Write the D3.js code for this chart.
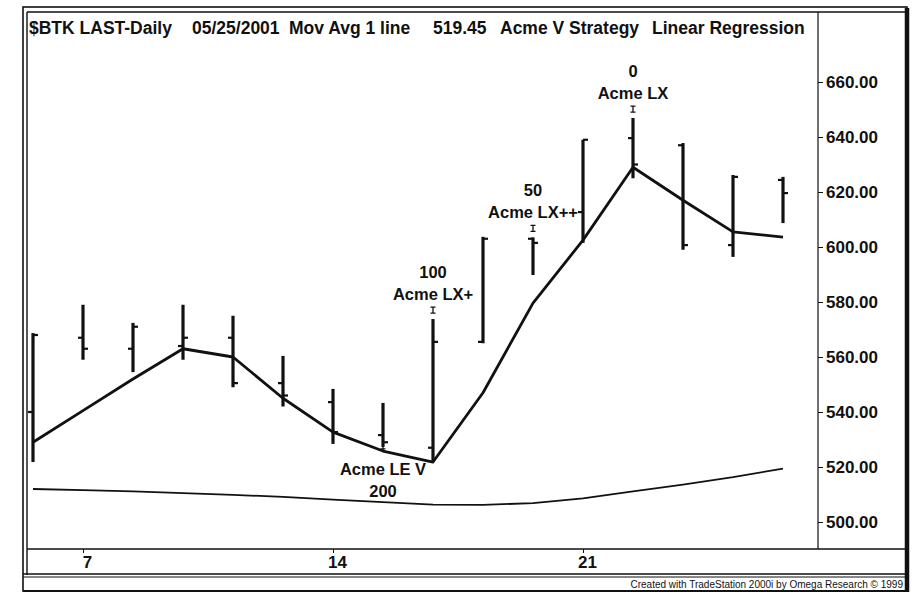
<!DOCTYPE html>
<html><head><meta charset="utf-8">
<script src="https://cdn.jsdelivr.net/npm/d3@7"></script>
<style>
html,body{margin:0;padding:0;background:#fff;}
svg{display:block;font-family:"Liberation Sans",Arial,sans-serif;}
</style></head>
<body><svg id="c" width="917" height="595"></svg>
<script>
// ---- data ----
const dates = ["2001-05-04","2001-05-07","2001-05-08","2001-05-09","2001-05-10","2001-05-11",
  "2001-05-14","2001-05-15","2001-05-16","2001-05-17","2001-05-18",
  "2001-05-21","2001-05-22","2001-05-23","2001-05-24","2001-05-25"];
const openV  = [540.0,567.0,563.0,564.0,567.0,550.5,543.6,531.6,527.0,565.5,603.0,612.7,639.6,637.0,600.7,624.4];
const highV  = [568.7,579.0,572.4,579.0,575.0,560.4,548.4,543.3,573.8,603.7,603.5,639.0,646.9,637.8,626.2,625.5];
const lowV   = [521.8,559.0,554.5,559.0,549.0,542.0,528.4,527.3,521.8,565.0,589.8,601.5,625.0,599.0,596.4,608.7];
const closeV = [568.0,563.0,571.0,567.0,550.5,546.0,532.7,529.0,565.5,603.0,601.5,639.0,630.0,600.7,625.5,619.6];
const regLine = [529.0,540.5,552.0,563.0,560.0,545.0,532.7,525.8,521.8,547.0,579.6,602.5,629.0,617.0,605.5,603.6];
const movAvg  = [512.0,511.6,511.1,510.5,509.9,509.1,508.1,507.2,506.3,506.2,506.9,508.6,511.1,513.6,516.3,519.45];
const yTicks = [500,520,540,560,580,600,620,640,660];
const xTickDates = ["2001-05-07","2001-05-14","2001-05-21"];
const xTickLabels = ["7","14","21"];
const signalDates = ["2001-05-15","2001-05-16","2001-05-18","2001-05-22"];
const signalNames = ["Acme LE V","Acme LX+","Acme LX++","Acme LX"];
const signalQty   = [200,100,50,0];
const signalSide  = ["below","above","above","above"];
const titleParts = ["$BTK LAST-Daily","05/25/2001","Mov Avg 1 line","519.45","Acme V Strategy","Linear Regression"];
const credit = "Created with TradeStation 2000i by Omega Research \u00A9 1999";

// ---- drawing ----
const svg = d3.select("#c");
const x = d3.scalePoint().domain(dates).range([33,783]);
const y = d3.scaleLinear().domain([500,660]).range([522,82]);
const idx = d => dates.indexOf(d);

// frame
const g0 = svg.append("g").attr("fill","none").attr("stroke","#111");
g0.append("rect").attr("x",23).attr("y",7).attr("width",884).attr("height",584).attr("stroke-width",1.6);
g0.append("line").attr("x1",27).attr("x2",27).attr("y1",12).attr("y2",575).attr("stroke-width",1.4);
g0.append("line").attr("x1",27).attr("x2",905).attr("y1",12).attr("y2",12).attr("stroke-width",1.4);
g0.append("line").attr("x1",907).attr("x2",907).attr("y1",8).attr("y2",592).attr("stroke-width",4.5);
g0.append("line").attr("x1",23).attr("x2",907).attr("y1",591).attr("y2",591).attr("stroke-width",2.2);
g0.append("line").attr("x1",818).attr("x2",818).attr("y1",12).attr("y2",549).attr("stroke-width",1.2);
g0.append("line").attr("x1",27).attr("x2",905).attr("y1",549).attr("y2",549).attr("stroke-width",1.4);
g0.append("line").attr("x1",23).attr("x2",905).attr("y1",574).attr("y2",574).attr("stroke-width",1.4);
g0.append("line").attr("x1",23).attr("x2",905).attr("y1",577).attr("y2",577).attr("stroke-width",1);

// title
const tX = [29,192,289,433,500,652];
svg.append("g").selectAll("text").data(titleParts).join("text")
  .attr("x",(d,i)=>tX[i]).attr("y",34)
  .attr("font-size",17.5).attr("font-weight","bold").attr("fill","#111")
  .text(d=>d);

// y axis
const ya = svg.append("g").attr("transform","translate(818,0)")
  .call(d3.axisRight(y).tickValues(yTicks).tickFormat(d3.format(".2f")).tickSize(5).tickPadding(3));
ya.select(".domain").remove();
ya.selectAll("line").attr("stroke","#111").attr("stroke-width",1);
ya.selectAll("text").attr("font-size",17).attr("font-weight","bold").attr("fill","#111")
  .attr("font-family","'Liberation Sans',Arial,sans-serif");

// x axis
const xa = svg.append("g").attr("transform","translate(0,549)")
  .call(d3.axisBottom(x).tickValues(xTickDates).tickFormat((d,i)=>xTickLabels[i]).tickSize(4).tickPadding(3));
xa.select(".domain").remove();
xa.selectAll("line").attr("stroke","#111").attr("stroke-width",1);
xa.selectAll("text").attr("font-size",17).attr("font-weight","bold").attr("fill","#111")
  .attr("dx",4).attr("font-family","'Liberation Sans',Arial,sans-serif");

// moving average (thin)
svg.append("path").datum(dates)
  .attr("fill","none").attr("stroke","#111").attr("stroke-width",1.8)
  .attr("d", d3.line().x(d=>x(d)).y((d,i)=>y(movAvg[i])));

// OHLC bars
const bars = svg.append("g").attr("stroke","#111");
bars.selectAll("line.hl").data(dates).join("line").attr("class","hl")
  .attr("x1",d=>x(d)).attr("x2",d=>x(d))
  .attr("y1",(d,i)=>y(highV[i])).attr("y2",(d,i)=>y(lowV[i])).attr("stroke-width",3.2);
bars.selectAll("line.o").data(dates).join("line").attr("class","o")
  .attr("x1",d=>x(d)-5).attr("x2",d=>x(d))
  .attr("y1",(d,i)=>y(openV[i])).attr("y2",(d,i)=>y(openV[i])).attr("stroke-width",2.2);
bars.selectAll("line.c").data(dates).join("line").attr("class","c")
  .attr("x1",d=>x(d)).attr("x2",d=>x(d)+5)
  .attr("y1",(d,i)=>y(closeV[i])).attr("y2",(d,i)=>y(closeV[i])).attr("stroke-width",2.2);

// regression line (thick)
svg.append("path").datum(dates)
  .attr("fill","none").attr("stroke","#111").attr("stroke-width",2.8).attr("stroke-linejoin","round")
  .attr("d", d3.line().x(d=>x(d)).y((d,i)=>y(regLine[i])));

// signals
const sg = svg.append("g").attr("fill","#111").attr("font-weight","bold");
signalDates.forEach((d,k)=>{
  const i = idx(d), cx = x(d);
  if (signalSide[k]==="above") {
    const hy = y(highV[i]);
    sg.append("path").attr("d",`M${cx-2.5},${hy-12}H${cx+2.5}M${cx},${hy-12}V${hy-6}M${cx-2.5},${hy-6}H${cx+2.5}`)
      .attr("stroke","#111").attr("stroke-width",1.3).attr("fill","none");
    sg.append("text").attr("x",cx).attr("y",hy-19).attr("text-anchor","middle").attr("font-size",16.5).text(signalNames[k]);
    sg.append("text").attr("x",cx).attr("y",hy-41).attr("text-anchor","middle").attr("font-size",16.5).text(signalQty[k]);
  } else {
    const ly = y(lowV[i]);
    sg.append("path").attr("d",`M${cx-2.5},${ly+2}H${cx+2.5}M${cx},${ly-2}V${ly+5}`)
      .attr("stroke","#111").attr("stroke-width",1.3).attr("fill","none");
    sg.append("text").attr("x",cx).attr("y",ly+28).attr("text-anchor","middle").attr("font-size",16.5).text(signalNames[k]);
    sg.append("text").attr("x",cx).attr("y",ly+50).attr("text-anchor","middle").attr("font-size",16.5).text(signalQty[k]);
  }
});

// credit
svg.append("text").attr("x",903).attr("y",588).attr("text-anchor","end")
  .attr("font-size",10).attr("font-family","'Liberation Sans Narrow','Liberation Sans',Arial,sans-serif")
  .attr("fill","#111").text(credit);
</script>
</body></html>
